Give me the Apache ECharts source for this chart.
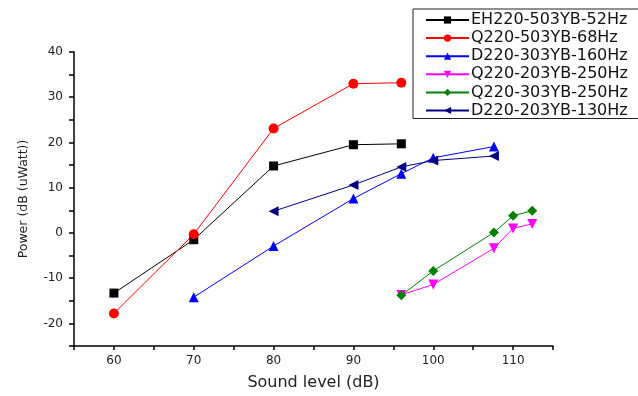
<!DOCTYPE html>
<html><head><meta charset="utf-8">
<script src="https://cdn.jsdelivr.net/npm/echarts@6/dist/echarts.min.js"></script>
<style>html,body{margin:0;padding:0;background:#fff}#c{width:638px;height:396px}</style>
</head><body><div id="c"></div>
<script>
const seriesNames = ["EH220-503YB-52Hz","Q220-503YB-68Hz","D220-303YB-160Hz","Q220-203YB-250Hz","Q220-303YB-250Hz","D220-203YB-130Hz"];
const eh220_x = [60,70,80,90,96];
const eh220_y = [-13.3,-1.5,14.8,19.5,19.7];
const q220_503_x = [60,70,80,90,96];
const q220_503_y = [-17.8,-0.3,23.1,33.0,33.2];
const d220_303_x = [70,80,90,96,100,107.6];
const d220_303_y = [-14.2,-2.9,7.6,13.1,16.6,19.1];
const q220_203_x = [96,100,107.6,110,112.4];
const q220_203_y = [-13.7,-11.4,-3.4,1.0,2.0];
const q220_303_x = [96,100,107.6,110,112.4];
const q220_303_y = [-13.8,-8.4,0.1,3.8,4.9];
const d220_203_x = [80,90,96,100,107.6];
const d220_203_y = [4.8,10.6,14.6,16.0,17.0];
const xs = [eh220_x,q220_503_x,d220_303_x,q220_203_x,q220_303_x,d220_203_x];
const ys = [eh220_y,q220_503_y,d220_303_y,q220_203_y,q220_303_y,d220_203_y];
const colors = ["#000000","#ff0000","#0000ff","#ff00ff","#008000","#000080"];
const symbols = ["rect","circle","triangle","triangle","diamond","triangle"];
const rotates = [0,0,0,180,0,90];
const sizes = [9,10,10,10,10,10];

const chart = echarts.init(document.getElementById('c'));
const font = 'DejaVu Sans, sans-serif';
chart.setOption({
  animation:false,
  backgroundColor:'#fff',
  grid:{left:74,right:85,top:52,bottom:48},
  legend:{
    data:seriesNames,
    orient:'vertical', left:413, top:9,
    itemWidth:43, itemHeight:9, itemGap:2.1,
    padding:[3,30,0,12],
    borderColor:'#222', borderWidth:1,
    textStyle:{fontFamily:font,fontSize:16,color:'#111',padding:[0,0,0,-3]}
  },
  xAxis:{
    type:'value',min:55,max:115,interval:5,
    name:'Sound level (dB)',nameLocation:'middle',nameGap:29,
    nameTextStyle:{fontFamily:font,fontSize:16,color:'#222'},
    axisLine:{onZero:false,lineStyle:{color:'#000',width:1.5}},
    axisTick:{inside:false,length:4,lineStyle:{color:'#000',width:1.5}},
    axisLabel:{fontFamily:font,fontSize:12,color:'#222',margin:9,
      formatter:v=>(v%10===0?String(v):'')},
    splitLine:{show:false}
  },
  yAxis:{
    type:'value',min:-25,max:40,interval:5,
    name:'Power (dB (uWatt))',nameLocation:'middle',nameGap:44,nameRotate:90,
    nameTextStyle:{fontFamily:font,fontSize:12.5,color:'#222'},
    axisLine:{onZero:false,lineStyle:{color:'#000',width:1.5}},
    axisTick:{inside:false,length:5,lineStyle:{color:'#000',width:1.5}},
    axisLabel:{fontFamily:font,fontSize:12,color:'#222',margin:11,
      formatter:v=>(v%10===0?String(v):'')},
    splitLine:{show:false}
  },
  series:seriesNames.map((n,i)=>({
    name:n,type:'line',
    data:xs[i].map((x,j)=>[x,ys[i][j]]),
    symbol:symbols[i],symbolRotate:rotates[i],symbolSize:sizes[i],
    lineStyle:{color:colors[i],width:1},
    itemStyle:{color:colors[i]},
    emphasis:{disabled:true}
  }))
});
</script></body></html>
